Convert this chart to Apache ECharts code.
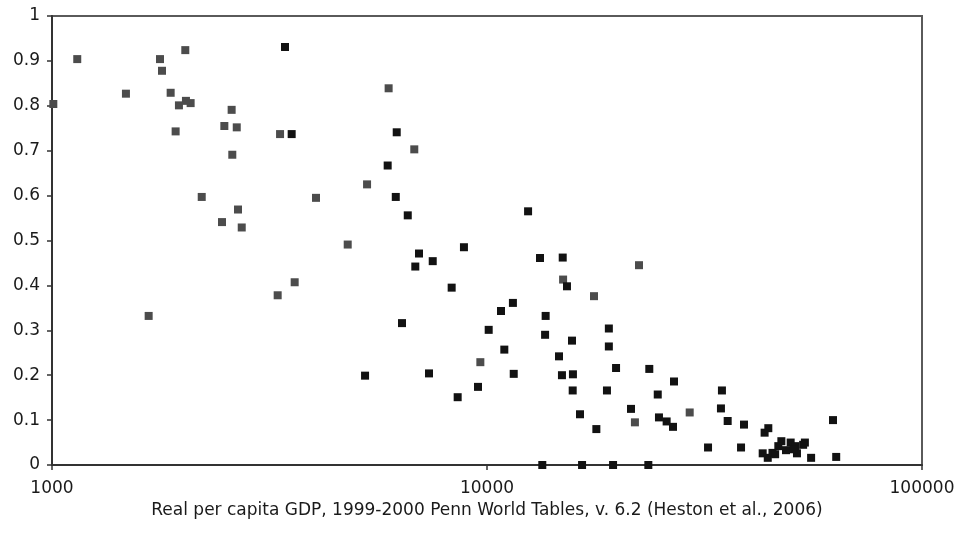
<!DOCTYPE html>
<html>
<head>
<meta charset="utf-8">
<script src="https://cdn.jsdelivr.net/npm/echarts@6/dist/echarts.min.js"></script>
<style>
  html, body { margin: 0; padding: 0; background: #fff; }
  #chart { width: 961px; height: 539px; }
</style>
</head>
<body>
<div id="chart"></div>
<script>
// Real per capita GDP (x) against the share value (y), two country groups
const gdpGrey = [1007, 1143, 1479, 1771, 1790, 1874, 2025, 1958, 2032, 2083, 1924, 2588, 2490, 2659, 2597,
  2209, 2677, 2459, 2730, 3344, 4045, 1668, 3302, 3613, 5941, 6805, 5300, 4784, 14960, 17620, 9654,
  22360, 21880, 29240];
const shareGrey = [0.804, 0.904, 0.827, 0.904, 0.878, 0.829, 0.924, 0.801, 0.811, 0.806, 0.743, 0.791, 0.755, 0.752, 0.691,
  0.597, 0.569, 0.541, 0.529, 0.737, 0.595, 0.332, 0.378, 0.407, 0.839, 0.703, 0.625, 0.491, 0.413, 0.376, 0.229,
  0.445, 0.095, 0.117];

const gdpBlack = [3433, 3556, 6201, 5911, 6170, 6574, 12429, 8851, 6978, 7503, 6842, 13240, 14930, 15270, 8294,
  11470, 10770, 13640, 6377, 10090, 13600, 15680, 19060, 19060, 10960, 14640, 19800, 5244, 7357, 11520,
  14870, 15760, 9536, 15740, 18870, 8562, 16360, 17840, 13400, 16540, 19490, 23490, 23610, 26910, 24690,
  34680, 21430, 24850, 25880, 26770, 34500, 35750, 38980, 32220, 38370, 43470, 44330, 62430, 47500, 49900,
  53800, 53300, 51140, 46740, 43030, 44200, 45320, 45960, 48680, 51590, 50700, 55600, 63500];
const shareBlack = [0.931, 0.737, 0.741, 0.667, 0.597, 0.556, 0.565, 0.485, 0.471, 0.454, 0.442, 0.461, 0.462, 0.398, 0.395,
  0.361, 0.343, 0.332, 0.316, 0.301, 0.290, 0.277, 0.304, 0.264, 0.257, 0.242, 0.216, 0.199, 0.204, 0.203,
  0.200, 0.202, 0.174, 0.166, 0.166, 0.151, 0.113, 0.080, 0, 0, 0, 0, 0.214, 0.186, 0.157,
  0.166, 0.125, 0.106, 0.097, 0.085, 0.126, 0.098, 0.090, 0.039, 0.039, 0.072, 0.082, 0.100, 0.053, 0.050,
  0.050, 0.045, 0.042, 0.042, 0.026, 0.016, 0.027, 0.024, 0.033, 0.026, 0.035, 0.016, 0.018];

const xTickLabels = ['1000', '10000', '100000'];
const xAxisTitle = 'Real per capita GDP, 1999-2000 Penn World Tables, v. 6.2 (Heston et al., 2006)';

const pairs = (xs, ys) => xs.map((x, i) => [x, ys[i]]);

const chart = echarts.init(document.getElementById('chart'), null, { renderer: 'canvas' });
const font = '"DejaVu Sans", sans-serif';

chart.setOption({
  animation: false,
  backgroundColor: '#ffffff',
  grid: {
    left: 52, right: 39, top: 16, bottom: 74,
    show: true, borderColor: '#5a5a5a', borderWidth: 2, backgroundColor: 'transparent'
  },
  xAxis: {
    type: 'log',
    logBase: 10,
    min: 1000,
    max: 100000,
    name: xAxisTitle,
    nameLocation: 'middle',
    nameGap: 35,
    nameTextStyle: { fontFamily: font, fontSize: 17, color: '#1a1a1a' },
    axisLine: { lineStyle: { color: '#333', width: 2 } },
    axisTick: { show: true, length: 5, lineStyle: { color: '#333', width: 1.5 } },
    axisLabel: {
      fontFamily: font, fontSize: 17, color: '#1a1a1a', margin: 15,
      formatter: v => {
        const idx = Math.round(Math.log10(v)) - 3;
        return xTickLabels[idx] !== undefined ? xTickLabels[idx] : '';
      }
    },
    splitLine: { show: false },
    minorTick: { show: false }
  },
  yAxis: {
    type: 'value',
    min: 0,
    max: 1,
    interval: 0.1,
    axisLine: { show: true, lineStyle: { color: '#333', width: 2 } },
    axisTick: { show: true, length: 5, lineStyle: { color: '#333', width: 1.5 } },
    axisLabel: {
      fontFamily: font, fontSize: 17, color: '#1a1a1a', margin: 12,
      formatter: v => String(Math.round(v * 10) / 10)
    },
    splitLine: { show: false }
  },
  series: [
    {
      name: 'grey',
      type: 'scatter',
      symbol: 'rect',
      symbolSize: 8,
      itemStyle: { color: '#4c4c4c', opacity: 1 },
      data: pairs(gdpGrey, shareGrey),
      z: 2
    },
    {
      name: 'black',
      type: 'scatter',
      symbol: 'rect',
      symbolSize: 8,
      itemStyle: { color: '#121212', opacity: 1 },
      data: pairs(gdpBlack, shareBlack),
      z: 3
    }
  ]
});
</script>
</body>
</html>
